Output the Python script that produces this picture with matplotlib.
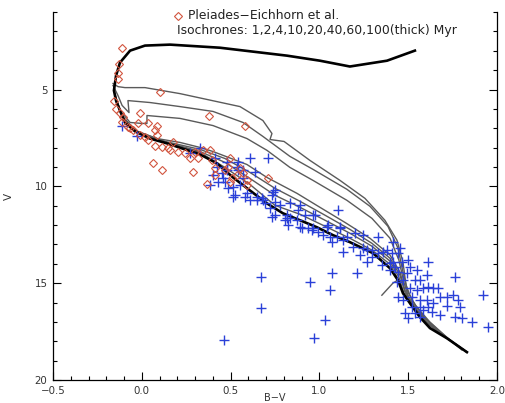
import numpy as np
import matplotlib
matplotlib.use("Agg")
import matplotlib.pyplot as plt
from matplotlib.ticker import MultipleLocator

# Pleiades - Eichhorn et al. (open diamonds)
eich_bv = [-0.111, -0.128, -0.134, -0.134, 0.102, -0.157, -0.145, -0.123, -0.010, -0.106,
           -0.111, -0.021, 0.035, -0.078, 0.086, -0.050, 0.074, 0.086, -0.010, 0.018,
           0.035, 0.176, 0.074, 0.114, 0.159, 0.204, 0.243, 0.300, 0.345, 0.384,
           0.063, 0.114, 0.288, 0.367, 0.378, 0.581, 0.316, 0.412, 0.497, 0.485,
           0.553, 0.570, 0.508, 0.497, 0.592, 0.592, 0.711, 0.412, 0.536, 0.395,
           0.468, -0.066, 0.148, 0.271]
eich_v = [2.84, 3.66, 4.12, 4.43, 5.15, 5.57, 5.98, 6.19, 6.19, 6.44,
          6.65, 6.75, 6.75, 6.91, 6.86, 7.11, 7.11, 7.37, 7.37, 7.47,
          7.58, 7.73, 7.89, 7.99, 8.14, 8.25, 8.30, 8.25, 8.14, 8.14,
          8.81, 9.18, 9.28, 9.90, 6.34, 6.86, 8.56, 9.07, 8.56, 9.02,
          9.07, 9.33, 9.59, 9.79, 9.69, 9.95, 9.59, 9.43, 9.43, 8.66,
          9.18, 7.01, 8.04, 8.51]

# other members (blue crosses)
star_bv = [-0.111, -0.027, 0.271, 0.328, 0.412, 0.423, 0.480, 0.480, 0.536, 0.570,
           0.542, 0.609, 0.711, 0.401, 0.452, 0.468, 0.485, 0.514, 0.514, 0.553,
           0.570, 0.592, 0.649, 0.649, 0.682, 0.739, 0.750, 0.778, 0.834, 0.733,
           0.818, 0.891, 0.880, 0.964, 0.891, 0.964, 1.043, 1.060, 1.105, 1.116,
           1.133, 1.155, 0.457, 0.542, 0.637, 0.525, 0.581, 0.609, 0.677, 0.694,
           0.733, 0.750, 0.722, 0.750, 0.818, 0.834, 0.806, 0.823, 0.919, 0.975,
           0.874, 0.902, 0.936, 0.958, 0.992, 1.020, 1.099, 1.048, 1.116, 1.133,
           0.384, 0.429, 1.071, 1.200, 1.245, 1.330, 1.414, 1.189, 1.245, 1.296,
           1.330, 1.381, 1.409, 1.443, 1.454, 1.229, 1.268, 1.352, 1.398, 1.426,
           1.465, 1.499, 1.510, 1.550, 1.611, 1.212, 1.398, 1.443, 1.493, 1.538,
           1.566, 1.606, 1.764, 1.437, 1.471, 1.510, 1.550, 1.583, 1.611, 1.640,
           1.668, 1.443, 1.471, 1.521, 1.566, 1.606, 1.679, 1.718, 1.752, 1.780,
           1.921, 1.521, 1.566, 1.611, 1.640, 1.718, 1.792, 1.482, 1.538, 1.583,
           1.634, 1.679, 1.566, 1.499, 1.764, 1.803, 1.859, 1.949, 1.268, 1.296,
           1.358, 1.414, 1.060, 1.071, 0.671, 0.947, 0.671, 1.032, 0.970, 0.463]
star_v = [6.86, 7.42, 8.30, 8.04, 8.56, 9.02, 8.76, 9.18, 9.02, 9.18,
          8.76, 8.51, 8.56, 9.43, 9.33, 9.79, 10.10, 10.05, 10.57, 9.95,
          9.59, 10.36, 10.57, 10.72, 10.72, 10.31, 10.82, 10.98, 10.87, 11.60,
          11.65, 10.98, 11.24, 11.49, 12.11, 12.16, 12.11, 12.62, 11.24, 12.11,
          13.40, 12.62, 9.59, 9.18, 9.28, 10.46, 10.57, 10.72, 10.62, 10.87,
          10.46, 10.21, 11.13, 11.49, 11.49, 11.65, 11.75, 12.01, 11.49, 11.49,
          11.75, 12.16, 12.16, 12.26, 12.37, 12.52, 12.62, 12.01, 12.16, 12.78,
          9.95, 9.79, 12.88, 12.42, 12.52, 12.62, 12.88, 13.14, 13.19, 13.29,
          13.45, 13.29, 13.45, 13.45, 13.19, 13.55, 13.92, 14.07, 13.97, 14.18,
          13.92, 13.81, 14.18, 14.33, 13.92, 14.48, 14.33, 14.43, 14.48, 14.85,
          14.85, 14.59, 14.69, 14.95, 14.85, 15.26, 15.36, 15.26, 15.21, 15.26,
          15.26, 15.72, 15.88, 15.72, 15.88, 15.88, 15.72, 15.72, 15.62, 15.88,
          15.62, 16.24, 16.24, 16.24, 16.03, 16.18, 16.24, 16.55, 16.55, 16.39,
          16.50, 16.65, 16.75, 16.80, 16.75, 16.80, 17.01, 17.27, 13.29, 13.66,
          13.40, 13.92, 15.36, 14.48, 14.69, 14.95, 16.29, 16.91, 17.84, 17.94]

# isochrones 1,2,4,10,20,40,60 Myr (thin)
iso1_bv = [-0.162, -0.134, -0.095, 0.018, 0.215, 0.553, 0.682, 0.733, 0.722, 0.801, 0.947,
           1.116, 1.257, 1.369, 1.437, 1.471, 1.488, 1.521, 1.595, 1.707, 1.803]
iso1_v = [4.69, 4.85, 4.90, 4.90, 5.21, 5.88, 6.60, 7.27, 7.58, 7.68, 8.66,
          9.69, 10.62, 11.75, 12.78, 13.92, 15.10, 15.88, 16.80, 17.73, 18.45]
iso2_bv = [-0.162, -0.134, -0.111, -0.072, -0.078, 0.046, 0.215, 0.401, 0.570, 0.682, 0.834,
           0.964, 1.155, 1.285, 1.386, 1.443, 1.471, 1.499, 1.544, 1.623, 1.724, 1.831]
iso2_v = [4.79, 5.31, 5.82, 6.19, 5.57, 5.67, 5.88, 6.13, 6.70, 7.42, 8.45,
          9.12, 10.15, 11.03, 12.06, 13.19, 14.43, 15.46, 16.18, 17.01, 17.84, 18.56]
iso4_bv = [-0.157, -0.123, -0.066, 0.001, 0.029, 0.029, 0.215, 0.401, 0.592, 0.705, 0.834,
           0.964, 1.155, 1.296, 1.398, 1.448, 1.476, 1.504, 1.555, 1.634, 1.735, 1.831]
iso4_v = [5.05, 6.08, 6.70, 6.75, 6.75, 6.34, 6.49, 6.86, 7.53, 8.14, 9.02,
          9.69, 10.72, 11.65, 12.68, 13.81, 14.95, 15.77, 16.44, 17.17, 17.94, 18.56]
iso10_bv = [-0.151, -0.111, -0.055, 0.046, 0.215, 0.328, 0.401, 0.592, 0.705, 0.874,
            1.003, 1.144, 1.285, 1.398, 1.454, 1.482, 1.527, 1.606, 1.718, 1.831]
iso10_v = [5.31, 6.34, 7.01, 7.47, 7.73, 7.99, 8.20, 8.87, 9.54, 10.36,
           11.08, 11.86, 12.68, 13.55, 14.43, 15.36, 16.13, 17.01, 17.84, 18.56]
iso20_bv = [-0.151, -0.111, -0.038, 0.131, 0.328, 0.468, 0.609, 0.750, 0.891, 1.032,
            1.172, 1.296, 1.398, 1.454, 1.482, 1.527, 1.606, 1.718, 1.831]
iso20_v = [5.41, 6.39, 7.11, 7.68, 8.09, 8.56, 9.28, 10.10, 10.77, 11.49,
           12.22, 12.94, 13.71, 14.59, 15.46, 16.24, 17.06, 17.84, 18.56]
iso40_bv = [-0.145, -0.106, -0.027, 0.142, 0.328, 0.468, 0.609, 0.750, 0.891, 1.032,
            1.172, 1.296, 1.398, 1.448, 1.476, 1.521, 1.600, 1.718, 1.831]
iso40_v = [5.52, 6.44, 7.16, 7.73, 8.20, 8.76, 9.59, 10.46, 11.08, 11.75,
           12.42, 13.09, 13.86, 14.69, 15.52, 16.18, 17.01, 17.84, 18.56]
iso60_bv = [-0.145, -0.100, -0.021, 0.148, 0.328, 0.468, 0.609, 0.750, 0.891, 1.032,
            1.172, 1.296, 1.398, 1.443, 1.476, 1.516, 1.595, 1.718, 1.831]
iso60_v = [5.62, 6.55, 7.22, 7.78, 8.25, 9.02, 9.90, 10.98, 11.44, 12.06,
           12.68, 13.29, 14.02, 14.79, 15.57, 16.13, 16.95, 17.84, 18.56]
hook_bv = [1.352, 1.414, 1.448]
hook_v = [15.62, 15.00, 14.80]

# 100 Myr isochrone (thick)
iso100_bv = [1.831, 1.718, 1.623, 1.566, 1.510, 1.471, 1.443, 1.398, 1.302, 1.172,
             1.077, 0.986, 0.891, 0.795, 0.705, 0.609, 0.514, 0.423, 0.328, 0.243,
             0.142, 0.046, -0.038, -0.095, -0.123, -0.145, -0.157, -0.145, -0.123, -0.066,
             0.018, 0.159, 0.440, 0.818, 1.003, 1.172, 1.381, 1.538]
iso100_v = [18.56, 17.84, 17.32, 16.75, 16.03, 15.52, 14.85, 14.23, 13.45, 12.88,
            12.52, 12.11, 11.75, 11.39, 10.88, 10.21, 9.54, 8.81, 8.35, 8.09,
            7.78, 7.53, 7.16, 6.70, 6.08, 5.57, 5.05, 4.28, 3.61, 2.99,
            2.73, 2.68, 2.84, 3.25, 3.51, 3.81, 3.51, 2.99]

thin = [(iso1_bv, iso1_v), (iso2_bv, iso2_v), (iso4_bv, iso4_v), (iso10_bv, iso10_v),
        (iso20_bv, iso20_v), (iso40_bv, iso40_v), (iso60_bv, iso60_v), (hook_bv, hook_v)]

plt.rcParams['font.family'] = ['DejaVu Sans']
fig = plt.figure(figsize=(5.05, 4.03), dpi=100)
ax = fig.add_axes([0.105, 0.057, 0.879, 0.913])

for bv, v in thin:
    ax.plot(bv, v, color="#5a5a5a", lw=1.0, zorder=2)
ax.plot(iso100_bv, iso100_v, color="black", lw=1.9, zorder=3)

ax.plot(star_bv, star_v, ls="none", marker="+", ms=6.5, mew=1.0, color="#2a40d8", zorder=4)
ax.plot(eich_bv, eich_v, ls="none", marker="D", ms=4, mew=0.8, mfc="none",
        mec="#d2553f", zorder=5)

ax.set_xlim(-0.5, 2.0)
ax.set_ylim(20, 1)
ax.xaxis.set_major_locator(MultipleLocator(0.5))
ax.xaxis.set_minor_locator(MultipleLocator(0.1))
ax.yaxis.set_major_locator(MultipleLocator(5))
ax.yaxis.set_minor_locator(MultipleLocator(1))
ax.set_yticks([5, 10, 15, 20])
ax.spines["top"].set_visible(False)
ax.tick_params(which="both", direction="in", top=False, right=True,
               labelsize=7.4, labelcolor="#333333", width=0.8)
ax.tick_params(axis="x", pad=4)
ax.tick_params(axis="y", pad=4)
ax.tick_params(which="major", length=6)
ax.tick_params(which="minor", length=3)
for s in ax.spines.values():
    s.set_linewidth(0.9)

ax.set_xlabel("B\u2212V", fontsize=7.0, color="#333333", labelpad=-2)
ax.set_ylabel("V", fontsize=7.5, color="#333333", labelpad=15)

# legend text
ax.plot([0.2815], [0.990], transform=ax.transAxes, ls="none", marker="D", ms=4,
        mew=0.8, mfc="none", mec="#d2553f", clip_on=False)
ax.text(0.304, 0.990, "Pleiades\u2212Eichhorn et al.", transform=ax.transAxes,
        fontsize=8.9, va="center", ha="left", color="#222222")
ax.text(0.279, 0.951, "Isochrones: 1,2,4,10,20,40,60,100(thick) Myr",
        transform=ax.transAxes, fontsize=8.9, va="center", ha="left", color="#222222")

plt.savefig("out.png", dpi=100)
